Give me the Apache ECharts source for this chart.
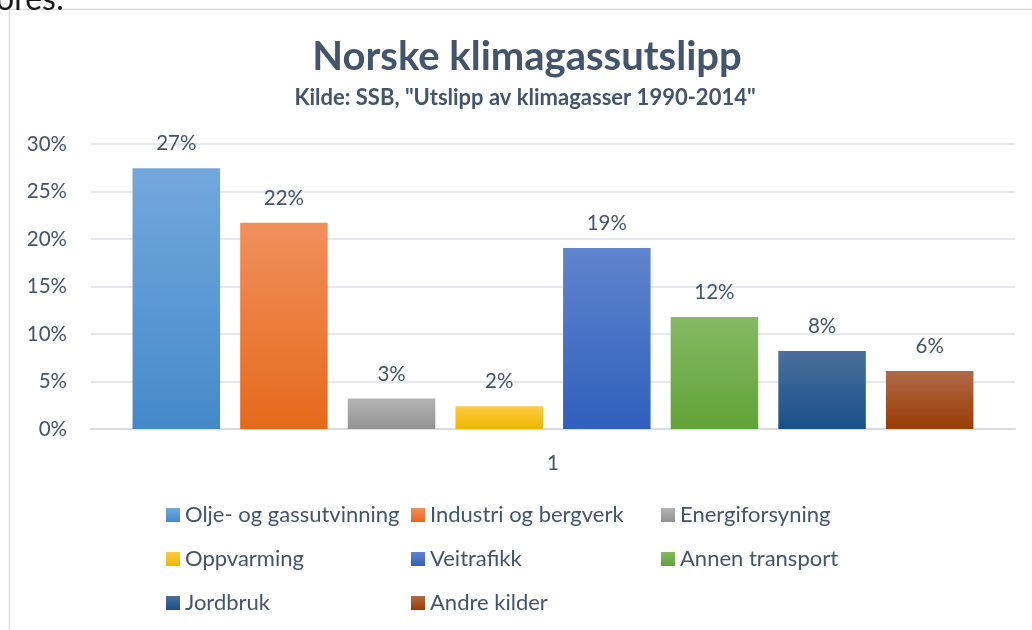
<!DOCTYPE html>
<html>
<head>
<meta charset="utf-8">
<script src="https://cdn.jsdelivr.net/npm/echarts@6/dist/echarts.min.js"></script>
<style>
html,body{margin:0;padding:0;background:#fff;}
#c{width:1032px;height:630px;}
</style>
</head>
<body>
<div id="c"></div>
<script>
// ---- data ----
const categories = ['1'];
const seriesNames = ['Olje- og gassutvinning','Industri og bergverk','Energiforsyning','Oppvarming','Veitrafikk','Annen transport','Jordbruk','Andre kilder'];
const seriesValues = [27.45, 21.7, 3.2, 2.4, 19.05, 11.8, 8.2, 6.1];
const yMin = 0, yMax = 30, yStep = 5;
const titleText = 'Norske klimagassutslipp';
const subtitleText = 'Kilde: SSB, "Utslipp av klimagasser 1990-2014"';
const legendCols = [
  ['Olje- og gassutvinning','Oppvarming','Jordbruk'],
  ['Industri og bergverk','Veitrafikk','Andre kilder'],
  ['Energiforsyning','Annen transport']
];

// ---- styles ----
const gradients = [
  ['#72a8dd','#4589ca'],
  ['#f18f5c','#e5691a'],
  ['#b3b3b3','#939393'],
  ['#ffca42','#eeb700'],
  ['#6085cd','#2f60bd'],
  ['#84b965','#61a336'],
  ['#4b709d','#19508a'],
  ['#b06a47','#9a3c04']
];
const txt = '#44546a';
const FONT = 'Lato';

const series = seriesNames.map((n,i)=>({
  name: n,
  type: 'bar',
  data: [seriesValues[i]],
  barWidth: 87.5,
  barGap: '23%',
  itemStyle: {
    color: {type:'linear', x:0, y:0, x2:0, y2:1,
      colorStops:[{offset:0,color:gradients[i][0]},{offset:1,color:gradients[i][1]}]}
  },
  label: {
    show: true, position: 'top', distance: 14,
    formatter: p => Math.round(p.value) + '%',
    color: txt, fontSize: 20.5, fontFamily: FONT
  }
}));

const legendLefts = [161, 406, 656];
const legends = legendCols.map((col,i)=>({
  data: col,
  orient: 'vertical',
  left: legendLefts[i],
  top: 499,
  itemWidth: 14, itemHeight: 14,
  itemGap: 22,
  icon: 'rect',
  textStyle: {color: txt, fontSize: 22, fontFamily: FONT, lineHeight: 22},
  selectedMode: false
}));

const chart = echarts.init(document.getElementById('c'));
chart.setOption({
  animation: false,
  backgroundColor: '#fff',
  textStyle: {fontFamily: FONT},
  grid: {left: 91, right: 17, top: 144, bottom: 201},
  xAxis: {
    type: 'category', data: categories,
    axisLine: {show: true, lineStyle: {color: '#d9dde3', width: 2}},
    axisTick: {show: false},
    axisLabel: {color: txt, fontSize: 20.5, fontFamily: FONT, margin: 24}
  },
  yAxis: {
    type: 'value', min: yMin, max: yMax, interval: yStep,
    axisLine: {show: false}, axisTick: {show: false},
    splitLine: {lineStyle: {color: '#dde1e6', width: 1.5}},
    axisLabel: {color: txt, fontSize: 20.5, fontFamily: FONT, margin: 24, formatter: '{value}%'}
  },
  legend: legends,
  series: series,
  graphic: [
    {type:'rect', z: 0, silent:true, shape:{x:9.5, y:9.5, width:1100, height:700},
      style:{fill:'none', stroke:'#d9dde3', lineWidth:1.5}},
    {type:'text', z: 1, silent:true, x:-4, y:0,
      style:{text:'ores:', font:'32px '+FONT, fill:'#1a1a1a', textVerticalAlign:'middle'}},
    {type:'text', silent:true, x:527, y:57,
      style:{text:titleText, font:'bold 40px '+FONT, fill:txt, textAlign:'center', textVerticalAlign:'middle'}},
    {type:'text', silent:true, x:525, y:98,
      style:{text:subtitleText, font:'bold 22px '+FONT, fill:txt, textAlign:'center', textVerticalAlign:'middle'}}
  ]
});
</script>
</body>
</html>
